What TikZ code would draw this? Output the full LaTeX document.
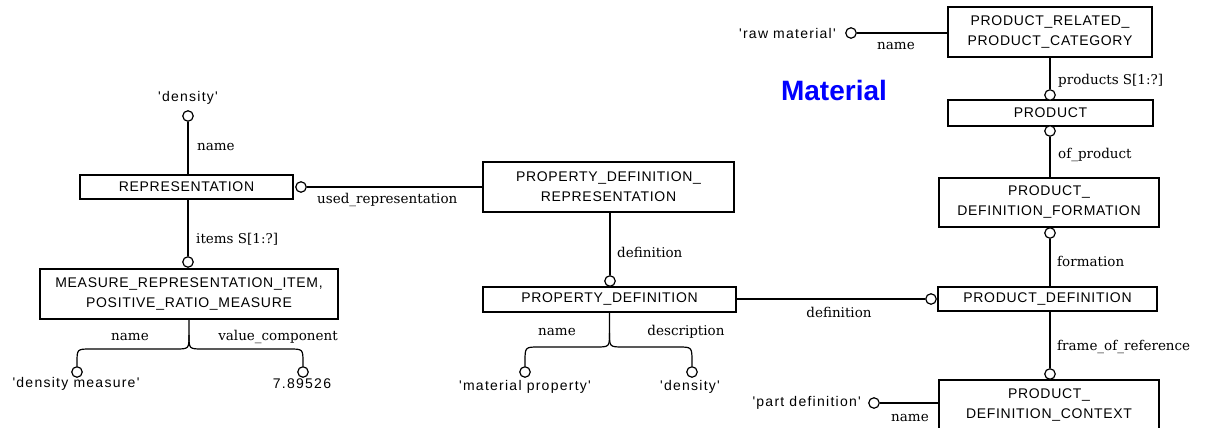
\documentclass[tikz,border=0pt]{standalone}
\usepackage{fontspec}
\newfontfamily\bxfont{Liberation Sans}[LetterSpace=5]
\newfontfamily\valfont{Liberation Sans}[LetterSpace=9]
\newfontfamily\lblfont{DejaVu Serif}
\newfontfamily\ttlfont{Liberation Sans}
\definecolor{matblue}{RGB}{0,0,255}
\tikzset{
  ent/.style={draw, line width=1.2pt, inner sep=0pt, align=center, font=\bxfont\fontsize{14}{20}\selectfont},
  circ/.style={draw, circle, minimum size=10.5pt, inner sep=0pt, line width=1.2pt, fill=white},
  lbl/.style={font=\lblfont\fontsize{13.5}{16}\selectfont, inner sep=0pt},
  val/.style={font=\valfont\fontsize{14}{16}\selectfont, inner sep=0pt},
  conn/.style={line width=1.2pt}
}
\begin{document}
\begin{tikzpicture}[x=1pt,y=-1pt]
\useasboundingbox (0,0) rectangle (1208,428);
\clip (0,0) rectangle (1208,428);
% entity boxes
\node[ent, minimum width=213pt, minimum height=24pt] (rep) at (186.5,187) {REPRESENTATION};
\node[ent, minimum width=298pt, minimum height=50pt] (mri) at (189,294) {MEASURE\_REPRESENTATION\_ITEM,\\POSITIVE\_RATIO\_MEASURE};
\node[ent, minimum width=251pt, minimum height=50pt] (pdr) at (608.5,187) {PROPERTY\_DEFINITION\_\\REPRESENTATION};
\node[ent, minimum width=253pt, minimum height=25pt] (pd) at (609.5,299.5) {PROPERTY\_DEFINITION};
\node[ent, minimum width=204pt, minimum height=50pt] (prpc) at (1050,32) {PRODUCT\_RELATED\_\\PRODUCT\_CATEGORY};
\node[ent, minimum width=205pt, minimum height=26pt] (prod) at (1050.5,113) {PRODUCT};
\node[ent, minimum width=220pt, minimum height=49pt] (pdf) at (1049,202.5) {PRODUCT\_\\DEFINITION\_FORMATION};
\node[ent, minimum width=219pt, minimum height=24pt] (prodef) at (1047.5,299) {PRODUCT\_DEFINITION};
\node[ent, minimum width=220pt, minimum height=50pt] (pdc) at (1049,405) {PRODUCT\_\\DEFINITION\_CONTEXT};
% circles
\node[circ] (c1) at (188,116) {};
\node[circ] (c2) at (301,187) {};
\node[circ] (c3) at (188,262) {};
\node[circ] (c4) at (77,372) {};
\node[circ] (c5) at (303,372) {};
\node[circ] (c6) at (610,281) {};
\node[circ] (c7) at (525,372) {};
\node[circ] (c8) at (692,372) {};
\node[circ] (c9) at (931,299) {};
\node[circ] (c10) at (1050,233) {};
\node[circ] (c11) at (1050,374) {};
\node[circ] (c12) at (874,403) {};
\node[circ] (c13) at (851,33) {};
\node[circ] (c14) at (1050,95) {};
\node[circ] (c15) at (1050,131) {};
% connectors
\draw[conn] (c1.south) -- (c1.south |- rep.north);
\draw[conn] (c2.east) -- (c2.east -| pdr.west);
\draw[conn] (c3.north |- rep.south) -- (c3.north);
\draw[conn] (mri.south) -- (189,335) .. controls (189,349) .. (175,349) -- (91,349) .. controls (77,349) .. (77,363) -- (c4.north);
\draw[conn] (189,335) .. controls (189,349) .. (203,349) -- (289,349) .. controls (303,349) .. (303,363) -- (c5.north);
\draw[conn] (c6.north |- pdr.south) -- (c6.north);
\draw[conn] (pd.south) -- (609.5,333) .. controls (609.5,347) .. (595.5,347) -- (539,347) .. controls (525,347) .. (525,362) -- (c7.north);
\draw[conn] (609.5,333) .. controls (609.5,347) .. (623.5,347) -- (678,347) .. controls (692,347) .. (692,362) -- (c8.north);
\draw[conn] (c9.west -| pd.east) -- (c9.west);
\draw[conn] (c10.south) -- (c10.south |- prodef.north);
\draw[conn] (c11.north |- prodef.south) -- (c11.north);
\draw[conn] (c12.east) -- (c12.east -| pdc.west);
\draw[conn] (c13.east) -- (c13.east -| prpc.west);
\draw[conn] (c14.north |- prpc.south) -- (c14.north);
\draw[conn] (c15.south) -- (c15.south |- pdf.north);
% role labels
\node[lbl, anchor=west] (l1) at (197,147) {name};
\node[lbl, anchor=west] (l2) at (317,200) {used\_representation};
\node[lbl, anchor=west] (l3) at (196,239) {items S[1:?]};
\node[lbl] (l4) at (130,337) {name};
\node[lbl] (l5) at (278,337) {value\_component};
\node[lbl, anchor=west] (l6) at (617,252) {definition};
\node[lbl] (l7) at (557,332) {name};
\node[lbl] (l8) at (686,332) {description};
\node[lbl] (l9) at (839,312) {definition};
\node[lbl, anchor=west] (l10) at (1057,261) {formation};
\node[lbl, anchor=west] (l11) at (1057,347) {frame\_of\_reference};
\node[lbl] (l12) at (910,418) {name};
\node[lbl, anchor=west] (l13) at (1058,155) {of\_product};
\node[lbl, anchor=west] (l14) at (1058,81) {products S[1:?]};
\node[lbl] (l15) at (896,46) {name};
% values
\node[val] (v1) at (188,98) {'density'};
\node[val] (v2) at (76,384) {'density measure'};
\node[val] (v3) at (302,384) {7.89526};
\node[val] (v4) at (525,387) {'material property'};
\node[val] (v5) at (690,387) {'density'};
\node[val, anchor=east] (v6) at (861,403) {'part definition'};
\node[val, anchor=east] (v7) at (836,33) {'raw material'};
% title
\node[font=\ttlfont\bfseries\fontsize{28}{30}\selectfont, text=matblue, inner sep=0pt] (title) at (834,90) {Material};
\end{tikzpicture}
\end{document}
